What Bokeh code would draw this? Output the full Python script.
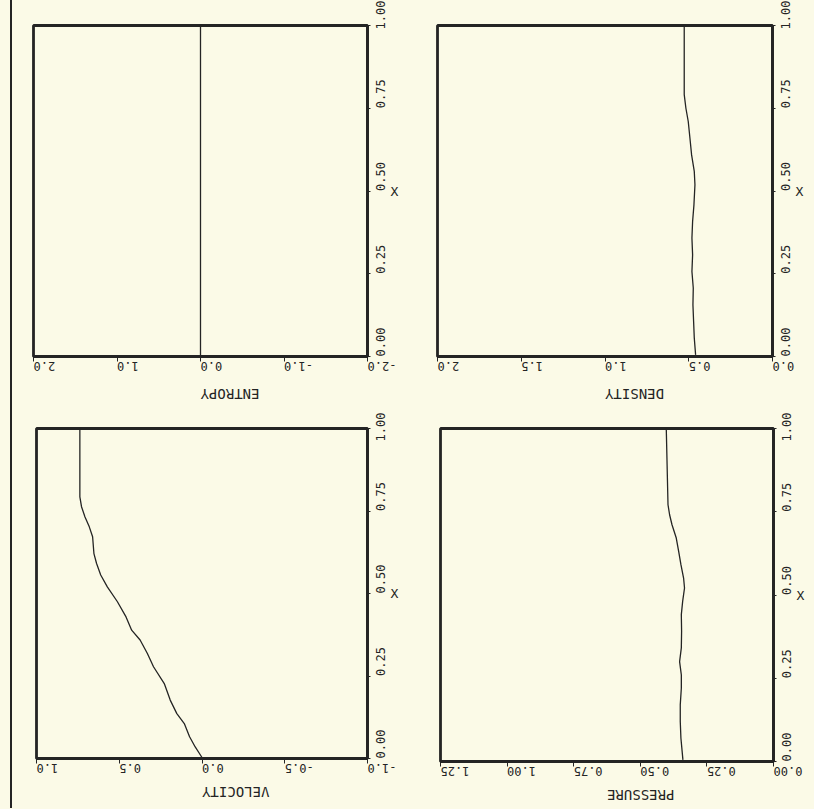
import math
from bokeh.plotting import figure
from bokeh.layouts import column, row
from bokeh.models import Range1d, FixedTicker, PrintfTickFormatter, Div
from bokeh.embed import file_html
from bokeh.resources import INLINE

# ---------------- data ----------------
x_ticks = [0.0, 0.25, 0.50, 0.75, 1.0]

entropy_x = [0.0, 0.25, 0.5, 0.75, 1.0]
entropy_v = [0.0, 0.0, 0.0, 0.0, 0.0]
entropy_ticks = [-2.0, -1.0, 0.0, 1.0, 2.0]

velocity_x = [1.000, 0.793, 0.763, 0.732, 0.702, 0.672, 0.621, 0.591, 0.556, 0.520,
              0.475, 0.429, 0.389, 0.359, 0.318, 0.278, 0.227, 0.177, 0.136, 0.106,
              0.066, 0.035, 0.003]
velocity_v = [0.738, 0.738, 0.728, 0.707, 0.681, 0.661, 0.653, 0.637, 0.612, 0.572,
              0.511, 0.459, 0.425, 0.374, 0.330, 0.293, 0.228, 0.192, 0.152, 0.107,
              0.075, 0.041, 0.000]
velocity_ticks = [-1.0, -0.5, 0.0, 0.5, 1.0]

density_x = [1.000, 0.791, 0.750, 0.710, 0.660, 0.609, 0.559, 0.519, 0.458, 0.408,
             0.358, 0.307, 0.257, 0.207, 0.156, 0.106, 0.056, 0.005]
density_v = [0.527, 0.527, 0.517, 0.503, 0.493, 0.483, 0.467, 0.463, 0.469, 0.477,
             0.481, 0.477, 0.481, 0.473, 0.475, 0.471, 0.467, 0.459]
density_ticks = [0.0, 0.5, 1.0, 1.5, 2.0]

pressure_x = [1.000, 0.771, 0.741, 0.711, 0.671, 0.631, 0.591, 0.551, 0.521, 0.481,
              0.441, 0.391, 0.341, 0.300, 0.260, 0.220, 0.170, 0.120, 0.070, 0.005]
pressure_v = [0.4025, 0.396, 0.390, 0.381, 0.365, 0.356, 0.3475, 0.3375, 0.334, 0.341,
              0.346, 0.345, 0.346, 0.3525, 0.346, 0.346, 0.350, 0.350, 0.3475, 0.340]
pressure_ticks = [0.0, 0.25, 0.50, 0.75, 1.00, 1.25]

# ---------------- style ----------------
PAPER = "#fbfae7"
INK = "#242424"
FONT = "DejaVu Sans Mono"


def panel(xs, vs, vmin, vmax, ticks, fmt, label, label_standoff,
          mb_left, mb_right, mb_top, mb_bottom, fw, fh):
    p = figure(frame_width=fw, frame_height=fh,
               x_range=Range1d(vmax, vmin), y_range=Range1d(0, 1),
               y_axis_location="right", output_backend="svg",
               toolbar_location=None, min_border_left=mb_left,
               min_border_right=mb_right, min_border_top=mb_top,
               min_border_bottom=mb_bottom)
    p.background_fill_color = PAPER
    p.border_fill_color = PAPER
    p.grid.visible = False
    p.outline_line_color = INK
    p.outline_line_width = 2.8

    xa = p.xaxis[0]
    xa.ticker = FixedTicker(ticks=ticks)
    xa.formatter = PrintfTickFormatter(format=fmt)
    xa.major_label_orientation = math.pi
    xa.axis_label = label
    xa.axis_label_orientation = math.pi
    xa.axis_label_text_font = FONT
    xa.axis_label_text_font_style = "normal"
    xa.axis_label_text_font_size = "14px"
    xa.axis_label_text_color = INK
    xa.axis_label_standoff = label_standoff
    xa.major_label_text_font = FONT
    xa.major_label_text_font_size = "12px"
    xa.major_label_text_color = INK
    xa.major_label_standoff = 5
    xa.major_tick_out = 5
    xa.major_tick_in = 0
    xa.minor_tick_out = 0
    xa.minor_tick_in = 0
    xa.axis_line_color = INK
    xa.axis_line_width = 2.8
    xa.major_tick_line_color = INK

    ya = p.yaxis[0]
    ya.ticker = FixedTicker(ticks=x_ticks)
    ya.formatter = PrintfTickFormatter(format="%.2f")
    ya.major_label_orientation = math.pi / 2
    ya.axis_label = "X"
    ya.axis_label_orientation = 0
    ya.axis_label_text_font = FONT
    ya.axis_label_text_font_style = "normal"
    ya.axis_label_text_font_size = "13px"
    ya.axis_label_text_color = INK
    ya.axis_label_standoff = -2
    ya.major_label_text_font = FONT
    ya.major_label_text_font_size = "12px"
    ya.major_label_text_color = INK
    ya.major_label_standoff = 10
    ya.major_tick_out = 3
    ya.major_tick_in = 0
    ya.minor_tick_out = 0
    ya.minor_tick_in = 0
    ya.axis_line_color = INK
    ya.axis_line_width = 2.8
    ya.major_tick_line_color = INK

    p.line(x=vs, y=xs, line_color=INK, line_width=1.3)
    return p


p_ent = panel(entropy_x, entropy_v, -2.0, 2.0, entropy_ticks, "%.1f", "ENTROPY", 15,
              21, 36, 25, 56, 334, 331)
p_den = panel(density_x, density_v, 0.0, 2.0, density_ticks, "%.1f", "DENSITY", 15,
              34, 42, 24, 57, 335, 331)
p_vel = panel(velocity_x, velocity_v, -1.0, 1.0, velocity_ticks, "%.1f", "VELOCITY", 11,
              24, 36, 16, 48, 331, 330)
p_pre = panel(pressure_x, pressure_v, 0.0, 1.25, pressure_ticks, "%.2f", "PRESSURE", 11,
              37, 41, 15, 46, 333, 333)

left_pad = Div(text="", width=10, height=809, margin=0,
               styles={"background-color": PAPER})
left_line = Div(text="", width=2, height=808, margin=0,
                styles={"background-color": INK})
bottom_line = Div(text="", width=802, height=2, margin=0,
                  styles={"background-color": INK})
bottom_pad = Div(text="", width=802, height=1, margin=0,
                 styles={"background-color": PAPER})

grid = column(row(p_ent, p_den, spacing=0), row(p_vel, p_pre, spacing=0),
              bottom_line, bottom_pad, spacing=0,
              styles={"background-color": PAPER})
layout = row(left_pad, left_line, grid, spacing=0,
             styles={"background-color": PAPER})

open("out.html", "w").write(file_html(layout, INLINE))
